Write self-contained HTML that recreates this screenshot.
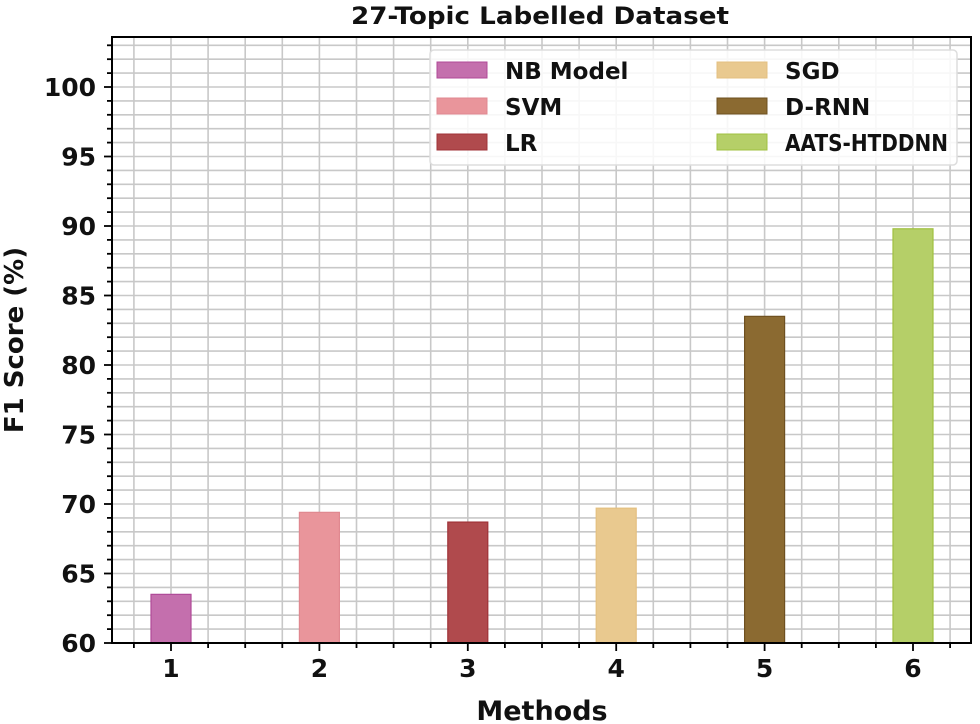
<!DOCTYPE html>
<html><head><meta charset="utf-8"><style>body{margin:0;background:#fff}svg{display:block}text{font-family:"DejaVu Sans","Liberation Sans",sans-serif;font-weight:bold;fill:#111}</style></head>
<body>
<svg id="s" width="980" height="724" viewBox="0 0 980 724" xmlns="http://www.w3.org/2000/svg">
<g id="grid" stroke="#c8c8c8" stroke-width="1.6"></g>
<g id="bars"></g>
<rect x="112" y="37" width="859" height="606" fill="none" stroke="#000" stroke-width="2"/>
<g id="ticks" stroke="#000" stroke-width="1.8"></g>
<g id="labels" font-size="25"></g>
<text x="540" y="24" text-anchor="middle" font-size="24" textLength="378" lengthAdjust="spacingAndGlyphs">27-Topic Labelled Dataset</text>
<text x="542" y="720" text-anchor="middle" font-size="27">Methods</text>
<text transform="translate(23,340) rotate(-90)" text-anchor="middle" font-size="26">F1 Score (%)</text>
<rect x="430" y="50" width="527" height="115" rx="4" fill="#fff" fill-opacity="0.85" stroke="#ddd" stroke-width="1.5"/>
<g font-size="23">
<rect x="437" y="62" width="50" height="16" fill="#c46fad" stroke="#b04a98"/><text x="505" y="79">NB Model</text>
<rect x="437" y="98" width="50" height="16" fill="#e9959b" stroke="#e08890"/><text x="505" y="115">SVM</text>
<rect x="437" y="134" width="50" height="16" fill="#b04a4d" stroke="#a03338"/><text x="505" y="151">LR</text>
<rect x="717" y="62" width="50" height="16" fill="#e9c98f" stroke="#e4c080"/><text x="785" y="79">SGD</text>
<rect x="717" y="98" width="50" height="16" fill="#8b6a31" stroke="#6e5020"/><text x="785" y="115">D-RNN</text>
<rect x="717" y="134" width="50" height="16" fill="#b5cf68" stroke="#a0c040"/><text x="785" y="151" textLength="163" lengthAdjust="spacingAndGlyphs">AATS-HTDDNN</text>
</g>
</svg>
<script>
const NS="http://www.w3.org/2000/svg";
function el(p,t,a){const e=document.createElementNS(NS,t);for(const k in a)e.setAttribute(k,a[k]);document.getElementById(p).appendChild(e);return e;}
const X=v=>171+(v-1)*148.4, Y=v=>643-(v-60)*13.9;
for(let v=0.75;v<=6.3;v+=0.25){el("grid","line",{x1:X(v),x2:X(v),y1:37,y2:643});el("ticks","line",{x1:X(v),x2:X(v),y1:643,y2:643+(Math.abs(v-Math.round(v))<0.01?8:5)});}
for(let v=61;v<=103;v++){el("grid","line",{x1:112,x2:971,y1:Y(v),y2:Y(v)});}
for(let v=60;v<=103;v++){el("ticks","line",{x1:112-(v%5==0?8:5),x2:112,y1:Y(v),y2:Y(v)});if(v%5==0){const t=el("labels","text",{x:96,y:Y(v)+9,"text-anchor":"end"});t.textContent=v;}}
for(let i=1;i<=6;i++){const t=el("labels","text",{x:X(i),y:677,"text-anchor":"middle"});t.textContent=i;}
const d=[[63.5,"#c46fad","#b04a98"],[69.4,"#e9959b","#e08890"],[68.7,"#b04a4d","#a03338"],[69.7,"#e9c98f","#e4c080"],[83.5,"#8b6a31","#6e5020"],[89.8,"#b5cf68","#a0c040"]];
d.forEach((b,i)=>{el("bars","rect",{x:X(i+1)-20,y:Y(b[0]),width:40,height:643-Y(b[0]),fill:b[1],stroke:b[2],"stroke-width":1.2});});
</script>
</body></html>
